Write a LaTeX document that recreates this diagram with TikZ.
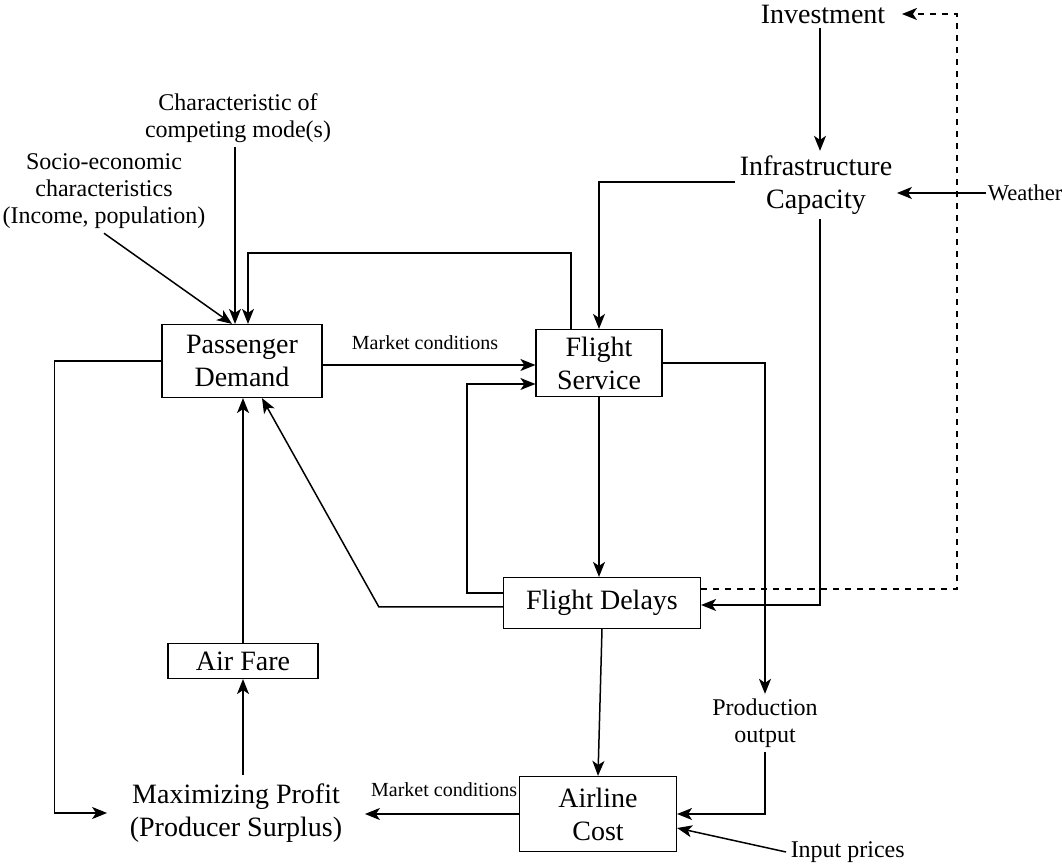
\documentclass[tikz,border=0pt]{standalone}
\usepackage{fontspec}
\setmainfont{Liberation Serif}
\usetikzlibrary{arrows.meta,calc}
\begin{document}
\begin{tikzpicture}[x=0.5pt,y=-0.5pt,
  line width=0.75pt,
  >={Stealth[length=7.5pt,width=6pt,inset=2pt]},
  big/.style={font=\fontsize{14}{16.5}\selectfont,align=center,inner sep=2pt},
  med/.style={font=\fontsize{12}{13.5}\selectfont,align=center,inner sep=2pt},
  sml/.style={font=\fontsize{10}{12}\selectfont,align=center,inner sep=1pt},
  box/.style={big,draw,line width=0.6pt}]
\useasboundingbox (0,0) rectangle (1062,865);
% nodes
\node[big] (Inv) at (823,14) {Investment};
\node[big] (IC) at (816,185) {Infrastructure\\Capacity};
\node[med,font=\fontsize{11.3}{13}\selectfont,inner sep=0.5pt,anchor=west] (W) at (986,193) {Weather};
\node[med] (CH) at (238,118) {Characteristic of\\competing mode(s)};
\node[med] (SE) at (104,191) {Socio-economic\\characteristics\\(Income, population)};
\node[box,minimum width=80pt,minimum height=36.5pt] (PD) at (242,361) {Passenger\\Demand};
\node[box,minimum width=63pt,minimum height=33.5pt] (FS) at (599,363) {Flight\\Service};
\node[box,minimum width=98.5pt,minimum height=25.5pt] (FD) at (602,603) {Flight Delays};
\node[box,minimum width=75pt,minimum height=17.5pt] (AF) at (243,661) {Air Fare};
\node[box,minimum width=78.5pt,minimum height=37.5pt] (AC) at (598,814) {Airline\\Cost};
\node[big,inner xsep=11pt,inner ysep=4pt] (MP) at (236,813) {Maximizing Profit\\(Producer Surplus)};
\node[med] (PO) at (765,723) {Production\\output};
\node[med,anchor=west] (IP) at (786,852) {Input prices};
\node[sml] (MC1) at (425,343) {Market conditions};
\node[sml,anchor=south east] (MC2) at (520,799) {Market conditions};
% connectors
\draw[->] ([xshift=-1.5pt]Inv.south) -- ([xshift=-1.5pt]Inv.south |- IC.north);
\draw[->] (W.west) -- (W.west -| IC.east);
\draw[->] ([yshift=1.5pt]IC.west) -- ++(-114,0) -| (FS.north);
\draw[->] ([xshift=2pt]IC.south) |- ([yshift=-1pt]FD.east);
\draw[->,dashed] ([yshift=7pt]FD.east) -- ++(256,0) |- ([xshift=6pt]Inv.east);
\draw[->] (CH.south -| {(235,0)}) -- ([xshift=-3.5pt]PD.north);
\draw[->] (SE.south) -- ([xshift=-5pt]PD.north);
\draw[->] ([xshift=-14pt]FS.north) -- ++(0,-76) -| ([xshift=3pt]PD.north);
\draw[->] ([yshift=-2pt]PD.east) -- ([yshift=-2pt]PD.east -| FS.west);
\draw[->] ([yshift=5pt]FD.west) -- ++(-36,0) |- ([yshift=-10.5pt]FS.west);
\draw[->] (FS.south) -- (FS.south |- FD.north);
\draw[->] ([yshift=-2pt]FD.west) -- ++(-124,0) -- ([xshift=10pt]PD.south);
\draw[->] (AF.north) -- (AF.north |- PD.south);
\draw[->] (MP.north -| AF.south) -- (AF.south);
\draw[->] (PD.west) -- ++(-107,0) |- (MP.west);
\draw[->] (AC.west) -- (AC.west -| MP.east);
\draw[->] (FD.south) -- (AC.north);
\draw[->] (FS.east) -| (PO.north);
\draw[->] (PO.south) |- (AC.east);
\draw[->] (IP.west) -- ([yshift=-7pt]AC.east);
\end{tikzpicture}
\end{document}
